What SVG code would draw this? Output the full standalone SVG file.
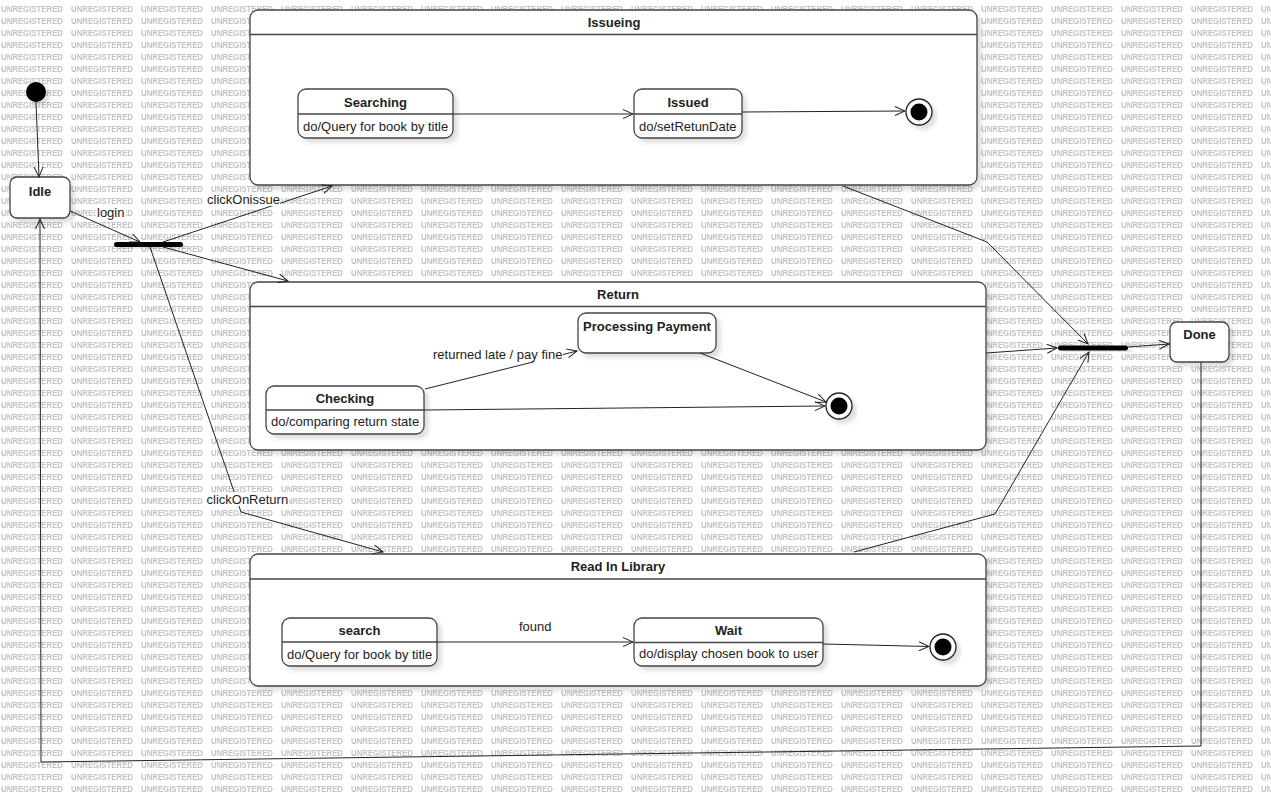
<svg xmlns="http://www.w3.org/2000/svg" width="1271" height="803" viewBox="0 0 1271 803">
<style>
text{font-family:"Liberation Sans",Arial,sans-serif;fill:#222;}
.t{font-size:13px;font-weight:bold;text-anchor:middle;}
.b{font-size:13px;text-anchor:start;}
.lbl{font-size:13px;}
.wm{font-size:9px;font-weight:bold;fill:#c2c2c2;}
.box{fill:#fff;stroke:#444;stroke-width:1.3;}
.div{stroke:#444;stroke-width:1.3;}
.c{fill:none;stroke:#222;stroke-width:1;marker-end:url(#arr);}
.lb{fill:#fff;}
</style>
<defs>
<pattern id="wmp" patternUnits="userSpaceOnUse" x="0" y="0" width="70" height="12">
<text class="wm" x="1" y="11.5" textLength="62" lengthAdjust="spacingAndGlyphs">UNREGISTERED</text>
</pattern>
<filter id="sh" x="-10%" y="-10%" width="130%" height="140%">
<feDropShadow dx="4" dy="4" stdDeviation="2" flood-color="#000" flood-opacity="0.13"/>
</filter>
<marker id="arr" viewBox="0 0 12 10" refX="11" refY="5" markerWidth="12" markerHeight="10" markerUnits="userSpaceOnUse" orient="auto">
<path d="M1,0.5 L11,5 L1,9.5" fill="none" stroke="#222" stroke-width="1"/>
</marker>
</defs>
<rect x="0" y="0" width="1271" height="803" fill="#fff"/>
<rect x="0" y="0" width="1271" height="795" fill="url(#wmp)"/>

<g id="issueing">
<rect class="box" x="250" y="10" width="727" height="175" rx="8" filter="url(#sh)"/>
<line class="div" x1="250" y1="34.5" x2="977" y2="34.5"/>
<text class="t" x="614" y="27.3">Issueing</text>
</g>
<g id="return">
<rect class="box" x="250" y="282" width="736" height="168" rx="8" filter="url(#sh)"/>
<line class="div" x1="250" y1="306.5" x2="986" y2="306.5"/>
<text class="t" x="618" y="299">Return</text>
</g>
<g id="readInLibrary">
<rect class="box" x="250" y="554" width="736" height="132" rx="8" filter="url(#sh)"/>
<line class="div" x1="250" y1="579" x2="986" y2="579"/>
<text class="t" x="618" y="571.3">Read In Library</text>
</g>

<g id="initial">
<circle cx="36" cy="92" r="10" fill="#000" filter="url(#sh)"/>
</g>
<g id="idle">
<rect class="box" x="10" y="177" width="60" height="41" rx="7" filter="url(#sh)"/>
<text class="t" x="40" y="195.7">Idle</text>
</g>
<g id="fork1">
<rect x="114" y="242" width="69" height="5" rx="2.5" fill="#000" filter="url(#sh)"/>
</g>
<g id="searching">
<rect class="box" x="298" y="89" width="155" height="49" rx="8" filter="url(#sh)"/>
<line class="div" x1="298" y1="114" x2="453" y2="114"/>
<text class="t" x="375.5" y="106.5">Searching</text>
<text class="b" x="303" y="130.5">do/Query for book by title</text>
</g>
<g id="issued">
<rect class="box" x="634" y="89" width="108" height="49" rx="8" filter="url(#sh)"/>
<line class="div" x1="634" y1="114" x2="742" y2="114"/>
<text class="t" x="688" y="107">Issued</text>
<text class="b" x="639" y="130.5">do/setRetunDate</text>
</g>
<g id="final1">
<circle cx="919" cy="112" r="13" fill="#fff" stroke="#222" stroke-width="1.3" filter="url(#sh)"/>
<circle cx="919" cy="112" r="8.5" fill="#000"/>
</g>
<g id="processingPayment">
<rect class="box" x="578" y="313" width="138" height="40" rx="8" filter="url(#sh)"/>
<text class="t" x="647" y="331.3">Processing Payment</text>
</g>
<g id="checking">
<rect class="box" x="266" y="386" width="158" height="48" rx="8" filter="url(#sh)"/>
<line class="div" x1="266" y1="410" x2="424" y2="410"/>
<text class="t" x="345" y="403">Checking</text>
<text class="b" x="271" y="426.3">do/comparing return state</text>
</g>
<g id="final2">
<circle cx="839" cy="406" r="13" fill="#fff" stroke="#222" stroke-width="1.3" filter="url(#sh)"/>
<circle cx="839" cy="406" r="8.5" fill="#000"/>
</g>
<g id="search">
<rect class="box" x="282" y="618" width="155" height="48" rx="8" filter="url(#sh)"/>
<line class="div" x1="282" y1="642" x2="437" y2="642"/>
<text class="t" x="359.5" y="634.6">search</text>
<text class="b" x="287" y="658.5">do/Query for book by title</text>
</g>
<g id="wait">
<rect class="box" x="634" y="618" width="189" height="48" rx="8" filter="url(#sh)"/>
<line class="div" x1="634" y1="642.5" x2="823" y2="642.5"/>
<text class="t" x="728.5" y="634.6">Wait</text>
<text class="b" x="639" y="658.3">do/display chosen book to user</text>
</g>
<g id="final3">
<circle cx="943" cy="647" r="13" fill="#fff" stroke="#222" stroke-width="1.3" filter="url(#sh)"/>
<circle cx="943" cy="647" r="8.5" fill="#000"/>
</g>
<g id="fork2">
<rect x="1058" y="345.5" width="70" height="5" rx="2.5" fill="#000" filter="url(#sh)"/>
</g>
<g id="done">
<rect class="box" x="1170" y="322" width="59" height="40" rx="7" filter="url(#sh)"/>
<text class="t" x="1199.5" y="338.6">Done</text>
</g>

<g id="connectors">
<path class="c" d="M36,102 L39,177"/>
<path class="c" d="M70,211 L140,242"/>
<path class="c" d="M163,242 L332,186"/>
<path class="c" d="M163,247 L288,281"/>
<path class="c" d="M150,247 L241,512 L383,552"/>
<path class="c" d="M453,114 L633,114"/>
<path class="c" d="M742,112 L905,111"/>
<path class="c" d="M425,389 L577,351"/>
<path class="c" d="M700,353 L826,402"/>
<path class="c" d="M424,410 L825,406"/>
<path class="c" d="M437,642 L633,642"/>
<path class="c" d="M823,644 L929,646.5"/>
<path class="c" d="M843,186 L987,242 L1088,344"/>
<path class="c" d="M986,353 L1057,348"/>
<path class="c" d="M854,552 L995,514 L1089,352"/>
<path class="c" d="M1128,347 L1169,344"/>
<path class="c" d="M1201,362 L1201,746 L41,762 L40,219"/>
<rect class="lb" x="96" y="205" width="30" height="14"/>
<text class="lbl" x="97" y="216.5">login</text>
<rect class="lb" x="205" y="192" width="75" height="14"/>
<text class="lbl" x="207" y="203.5">clickOnissue</text>
<rect class="lb" x="205" y="492" width="84" height="14"/>
<text class="lbl" x="206.5" y="503.5">clickOnReturn</text>
<rect class="lb" x="431" y="347" width="132" height="15"/>
<text class="lbl" x="433" y="359">returned late / pay fine</text>
<rect class="lb" x="517" y="619" width="36" height="14"/>
<text class="lbl" x="519" y="631">found</text>
</g>
</svg>
